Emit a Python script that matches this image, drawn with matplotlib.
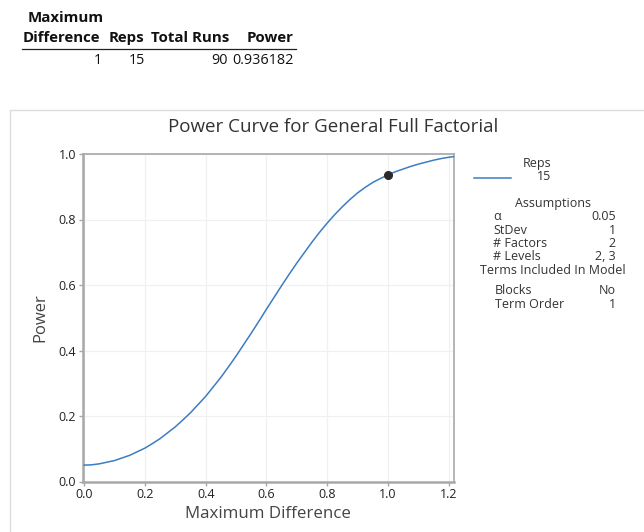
import matplotlib
matplotlib.use("Agg")
import matplotlib.pyplot as plt
from matplotlib.patches import Rectangle
from matplotlib.lines import Line2D

plt.rcParams['font.family'] = ['Open Sans', 'DejaVu Sans']

# Power curve values
max_diff = [0.000, 0.025, 0.050, 0.075, 0.100, 0.125, 0.150, 0.175, 0.200, 0.225,
            0.250, 0.275, 0.300, 0.325, 0.350, 0.375, 0.400, 0.425, 0.450, 0.475,
            0.500, 0.525, 0.550, 0.575, 0.600, 0.625, 0.650, 0.675, 0.700, 0.725,
            0.750, 0.775, 0.800, 0.825, 0.850, 0.875, 0.900, 0.925, 0.950, 0.975,
            1.000, 1.025, 1.050, 1.075, 1.100, 1.125, 1.150, 1.175, 1.200, 1.216]
power = [0.050, 0.051, 0.054, 0.059, 0.064, 0.072, 0.080, 0.091, 0.102, 0.116,
         0.131, 0.149, 0.167, 0.188, 0.210, 0.235, 0.260, 0.289, 0.318, 0.350,
         0.383, 0.418, 0.453, 0.489, 0.526, 0.562, 0.598, 0.633, 0.667, 0.699,
         0.731, 0.761, 0.789, 0.815, 0.839, 0.861, 0.881, 0.898, 0.913, 0.925,
         0.936, 0.946, 0.954, 0.962, 0.969, 0.975, 0.981, 0.986, 0.990, 0.992]

# Highlighted design point
point_diff = 1
point_reps = 15
point_runs = 90
point_power = 0.936182

x_ticks = [0.0, 0.2, 0.4, 0.6, 0.8, 1.0, 1.2]
y_ticks = [0.0, 0.2, 0.4, 0.6, 0.8, 1.0]

assumption_labels = ["α", "StDev", "# Factors", "# Levels"]
assumption_values = ["0.05", "1", "2", "2, 3"]
model_labels = ["Blocks", "Term Order"]
model_values = ["No", "1"]

W, H = 644, 532
fig = plt.figure(figsize=(W / 100, H / 100), dpi=100)
fig.patch.set_facecolor("white")


def fx(x):
    return x / W


def fy(y):
    return 1 - y / H


# Summary table above the graph
hdr = dict(fontsize=10.8, fontweight="bold", color="#111111", va="center")
fig.text(fx(28), fy(18), "Maximum", ha="left", **hdr)
fig.text(fx(23), fy(38), "Difference", ha="left", **hdr)
fig.text(fx(109), fy(38), "Reps", ha="left", **hdr)
fig.text(fx(151), fy(38), "Total Runs", ha="left", **hdr)
fig.text(fx(294), fy(38), "Power", ha="right", **hdr)
fig.add_artist(Line2D([fx(22), fx(296)], [fy(48.5), fy(48.5)], color="#222222", lw=0.9))
row = dict(fontsize=10.4, color="#111111", va="center")
fig.text(fx(102), fy(61), f"{point_diff}", ha="right", **row)
fig.text(fx(129), fy(61), f"{point_reps}", ha="left", **row)
fig.text(fx(228), fy(61), f"{point_runs}", ha="right", **row)
fig.text(fx(294), fy(61), f"{point_power:.6f}", ha="right", **row)

# Graph panel frame
fig.add_artist(Rectangle((fx(10), fy(560)), fx(700), (560 - 110) / H,
                         transform=fig.transFigure, facecolor="white",
                         edgecolor="#dcdcdc", lw=1.0, zorder=0))

fig.text(fx(333), fy(127), "Power Curve for General Full Factorial",
         ha="center", va="center", fontsize=13.5, color="#333333")

ax = fig.add_axes([fx(83), fy(481.5), fx(453.5 - 83), (481.5 - 154) / H])
ax.plot(max_diff, power, color="#3b7dc4", lw=1.1, zorder=3)
ax.plot([point_diff], [point_power], "o", color="#2b2b2b", ms=5.5, zorder=4)

ax.set_xlim(-0.004, 1.216)
ax.set_ylim(0, 1.0)
ax.set_xticks(x_ticks)
ax.set_yticks(y_ticks)
ax.set_xticklabels([f"{t:.1f}" for t in x_ticks])
ax.set_yticklabels([f"{t:.1f}" for t in y_ticks])
ax.grid(True, color="#f0f0f0", lw=0.9)
ax.set_axisbelow(True)
for s in ax.spines.values():
    s.set_color("#a8a8a8")
    s.set_linewidth(1.2)
ax.spines["left"].set_linewidth(1.8)
ax.spines["bottom"].set_linewidth(1.8)
ax.tick_params(axis="both", colors="#a8a8a8", length=3, width=1,
               labelsize=9, labelcolor="#222222", pad=2)
ax.set_xlabel("Maximum Difference", fontsize=12.2, color="#444444", labelpad=3)
ax.set_ylabel("Power", fontsize=12, color="#444444", labelpad=7)

# Legend and assumptions block
leg = dict(fontsize=9, color="#333333", va="center")
fig.text(fx(537), fy(163), "Reps", ha="center", **leg)
fig.add_artist(Line2D([fx(474), fx(511)], [fy(178), fy(178)], color="#3b7dc4", lw=1.1))
fig.text(fx(544), fy(177), f"{point_reps}", ha="center", **leg)
fig.text(fx(553), fy(204), "Assumptions", ha="center", **leg)
for i, (lab, val) in enumerate(zip(assumption_labels, assumption_values)):
    y = 217 + i * 13.3
    fig.text(fx(493), fy(y), lab, ha="left", **leg)
    fig.text(fx(616), fy(y), val, ha="right", **leg)
fig.text(fx(553), fy(271), "Terms Included In Model", ha="center", **leg)
for i, (lab, val) in enumerate(zip(model_labels, model_values)):
    y = 291 + i * 14
    fig.text(fx(495), fy(y), lab, ha="left", **leg)
    fig.text(fx(616), fy(y), val, ha="right", **leg)

fig.savefig("out.png", dpi=100, facecolor="white")
